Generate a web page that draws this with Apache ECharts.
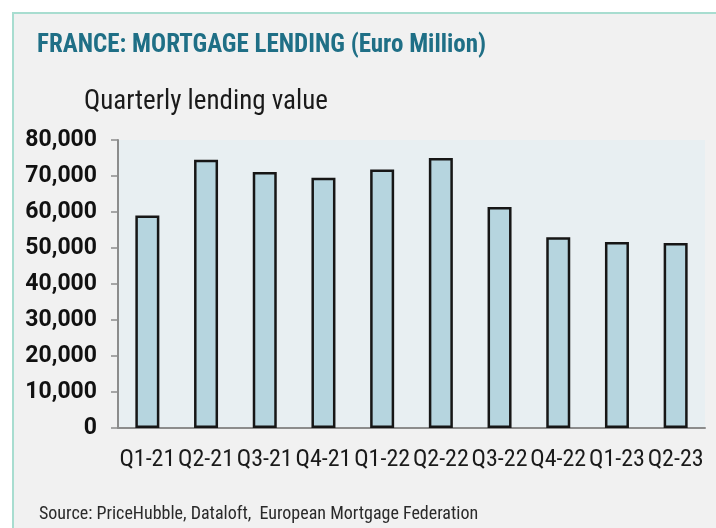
<!DOCTYPE html>
<html>
<head>
<meta charset="utf-8">
<script src="https://cdn.jsdelivr.net/npm/echarts@6/dist/echarts.min.js"></script>
<style>
html,body{margin:0;padding:0;background:#fff;}
#chart{width:716px;height:528px;}
</style>
</head>
<body>
<div id="chart"></div>
<script>
const categories = ['Q1-21','Q2-21','Q3-21','Q4-21','Q1-22','Q2-22','Q3-22','Q4-22','Q1-23','Q2-23'];
const lendingValues = [59000, 74500, 71100, 69500, 71800, 75000, 61400, 53000, 51700, 51400];
const yTicks = [0, 10000, 20000, 30000, 40000, 50000, 60000, 70000, 80000];
const titleText = 'FRANCE: MORTGAGE LENDING (Euro Million)';
const subtitleText = 'Quarterly lending value';
const sourceText = 'Source: PriceHubble, Dataloft,  European Mortgage Federation';

const narrow = "'Liberation Sans Narrow','Roboto Condensed','DejaVu Sans Condensed',Roboto,sans-serif";

const chart = echarts.init(document.getElementById('chart'));
chart.setOption({
  backgroundColor: '#ffffff',
  animation: false,
  graphic: [
    { type: 'rect', z: -10, shape: { x: 13, y: 13, width: 720, height: 530 },
      style: { fill: '#f1f1f1', stroke: '#a8ddd0', lineWidth: 2 } },
    { type: 'text', left: 37, top: 33,
      style: { text: titleText, fill: '#1f6f86', font: "bold 25px " + narrow } },
    { type: 'text', left: 84, top: 89,
      style: { text: subtitleText, fill: '#1a1a1a', font: "27px " + narrow } },
    { type: 'text', left: 39, top: 505,
      style: { text: sourceText, fill: '#2a2a2a', font: "18px " + narrow } }
  ],
  grid: {
    left: 118, right: 11, top: 140, bottom: 100,
    show: true, backgroundColor: '#e8eff2', borderWidth: 0
  },
  xAxis: {
    type: 'category',
    data: categories,
    axisLine: { show: true, lineStyle: { color: '#8c8c8c', width: 2 } },
    axisTick: { show: false },
    axisLabel: { color: '#1a1a1a', fontSize: 24, fontFamily: narrow, margin: 20, interval: 0 }
  },
  yAxis: {
    type: 'value',
    min: yTicks[0], max: yTicks[yTicks.length - 1], interval: 10000,
    splitLine: { show: false },
    axisLine: { show: true, lineStyle: { color: '#8c8c8c', width: 2 } },
    axisTick: { show: true, length: 7, lineStyle: { color: '#8c8c8c', width: 1.5 } },
    axisLabel: {
      color: '#111', fontSize: 23, fontWeight: 'bold', fontFamily: 'Roboto, sans-serif', margin: 21,
      formatter: v => v.toLocaleString('en-US')
    }
  },
  series: [{
    type: 'bar',
    data: lendingValues,
    barWidth: 24,
    itemStyle: { color: '#b6d5df', borderColor: '#161616', borderWidth: 2.5 }
  }]
});
</script>
</body>
</html>
